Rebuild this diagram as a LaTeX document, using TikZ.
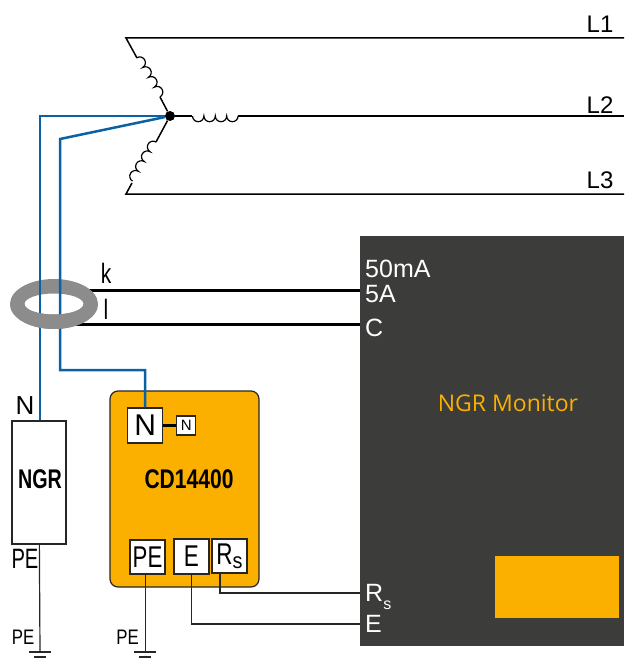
\documentclass[tikz,border=0pt]{standalone}
\usepackage{fontspec}
\setmainfont{Liberation Sans}
\newfontfamily\labelfont{Open Sans}
\usepackage{xcolor}
\usetikzlibrary{positioning}

\definecolor{darkbox}{HTML}{3C3C3B}
\definecolor{amber}{HTML}{FBB000}
\definecolor{wireblue}{HTML}{0A62A5}
\definecolor{ringgray}{HTML}{8C8C8C}

\newcommand{\squeeze}[2]{\scalebox{#1}[1]{#2}}
\newcommand{\ringshape}{(54,304) ellipse (44 and 25) (54,304) ellipse (29.5 and 10.5)}

\tikzset{
  term/.style={rectangle, draw=black!85, line width=1.3pt, fill=white, inner sep=0pt, font=\fontsize{30}{30}\selectfont},
  wire/.style={line width=1.2pt, black!85},
  bus/.style={line width=1.5pt, black},
  thickwire/.style={line width=3pt, black},
  bluewire/.style={line width=2.5pt, wireblue},
  txt/.style={inner sep=0pt, font=\fontsize{24}{24}\selectfont},
  pic txt/.style={inner sep=0pt, white, anchor=west, font=\fontsize{25}{25}\selectfont},
  coil/.pic={\draw[line width=1.2pt, black] (0,0) arc (180:0:5.7) arc (180:0:5.7) arc (180:0:5.7) arc (180:0:5.7);},
  groundsym/.pic={\draw[line width=1.3pt, black!85] (-11,0) -- (11,0) (-6,5) -- (6,5);}
}

\begin{document}
\begin{tikzpicture}[x=1pt, y=-1pt]
\useasboundingbox (0,0) rectangle (624,658);

% boxes
\node (monitor) [rectangle, fill=darkbox, minimum width=264pt, minimum height=410pt, inner sep=0pt] at (492,441) {};
\node (display) [rectangle, fill=amber, minimum width=124pt, minimum height=62pt, inner sep=0pt] at (557,587) {};
\node (cd) [rectangle, rounded corners=8pt, draw=black!85, line width=1.2pt, fill=amber, minimum width=149pt, minimum height=196pt, inner sep=0pt] at (184.5,489) {};
\node (ngr) [rectangle, draw=black!85, line width=1.3pt, fill=white, minimum width=54pt, minimum height=123pt, inner sep=0pt] at (39,482.5) {};

\node (ntop) [term, minimum width=35pt, minimum height=35pt] at (145.2,425.5) {N};
\node (nsmall) [term, minimum width=19pt, minimum height=19pt, font=\fontsize{15}{15}\selectfont] at (186.3,425.5) {N};
\node (pe) [term, minimum width=35pt, minimum height=34pt] at (147.5,557) {\squeeze{.74}{PE}};
\node (e) [term, minimum width=35pt, minimum height=35pt] at (191.5,556.5) {\squeeze{.75}{E}};
\node (rs) [term, minimum width=35pt, minimum height=34pt] at (229.5,556) {\squeeze{.75}{R}\raisebox{-4pt}{\squeeze{.9}{\fontsize{22}{22}\selectfont s}}};

% source
\node (star) [circle, fill=black, minimum size=10pt, inner sep=0pt] at (170,116) {};
\coordinate (a1) at (126,38);
\coordinate (a3) at (126,194);
\coordinate (endl1) at (624,38);
\coordinate (endl2) at (624,116);
\coordinate (endl3) at (624,194);
\coordinate (kink1) at (40,116);
\coordinate (kink2) at (60,139);
\coordinate (kink3) at (60,370);
\coordinate (kink4) at (145.2,370);
\coordinate (groundl) at (40,652);
\coordinate (groundr) at (145.2,652);

\draw[bus] (endl1) -- (a1) -- (137,58);
\draw[bus] (160,97) -- (star);
\draw[bus] (endl3) -- (a3) -- (132,183);
\draw[bus] (156,142) -- (star);
\draw[bus] (star) -- (192,116);
\draw[bus] (238,116) -- (endl2);
\pic at (192.5,116) {coil};
\pic[rotate=120.5] at (160,97) {coil};
\pic[rotate=-121] at (156,142) {coil};

% current transformer
\draw[thickwire] (70,290) -- (monitor.west |- 70,290);
\draw[thickwire] (70,324) -- (monitor.west |- 70,324);
\fill[ringgray, even odd rule] \ringshape;
\draw[bluewire] (star) -- (kink1) -- (ngr.north -| kink1);
\draw[bluewire] (star) -- (kink2) -- (kink3) -- (kink4) -- (ntop);
\begin{scope}
\clip (0,304) rectangle (110,340);
\fill[ringgray, even odd rule] \ringshape;
\end{scope}

% connections
\draw[thickwire] (ntop) -- (nsmall);
\draw[wire] (ngr) -- (groundl);
\draw[wire] (pe.south -| groundr) -- (groundr);
\draw[wire] (e.south) -- (e.south |- 0,624) -- (monitor.west |- 0,624);
\draw[wire] (rs.south -| 220,0) -- (220,593) -- (monitor.west |- 0,593);
\pic at (groundl) {groundsym};
\pic at (groundr) {groundsym};

% labels
\foreach \name/\y in {L1/24, L2/105, L3/180} \node[txt] at (600,\y) {\name};
\node[txt, font=\fontsize{28}{28}\selectfont] at (106,273) {\squeeze{.75}{k}};
\node[txt, font=\fontsize{28}{28}\selectfont] at (106,309) {\squeeze{.75}{l}};
\node[txt, font=\fontsize{26}{26}\selectfont] at (25,406) {N};
\node[txt, font=\fontsize{28}{28}\selectfont] at (25,559) {\squeeze{.72}{PE}};
\node[txt, font=\fontsize{21}{21}\selectfont] at (23,637) {\squeeze{.8}{PE}};
\node[txt, font=\fontsize{21}{21}\selectfont] at (127.5,637) {\squeeze{.8}{PE}};
\node[inner sep=0pt, font=\bfseries\fontsize{27}{27}\selectfont] at (40,479) {\squeeze{.73}{NGR}};
\node[inner sep=0pt, font=\bfseries\fontsize{27}{27}\selectfont] at (189,479) {\squeeze{.78}{CD14400}};
\node[pic txt] at (365,269) {50mA};
\node[pic txt] at (365,294) {5A};
\node[pic txt] at (365,328) {C};
\node[pic txt, anchor=base west] at (365,601) {R\raisebox{-8pt}{\fontsize{16}{16}\selectfont s}};
\node[pic txt] at (365,624) {E};
\node[inner sep=0pt, amber, font=\labelfont\fontsize{23}{23}\selectfont] at (508,403) {NGR Monitor};
\end{tikzpicture}
\end{document}
